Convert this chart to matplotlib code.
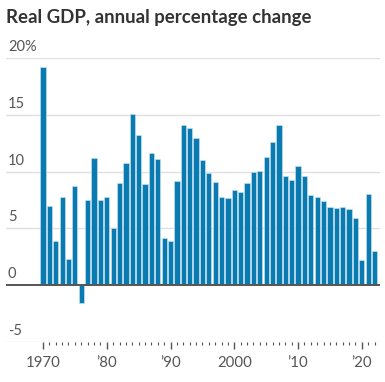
import numpy as np
import matplotlib
matplotlib.use("Agg")
import matplotlib.pyplot as plt
import matplotlib.transforms as mtransforms

plt.rcParams['font.family'] = ['Lato', 'DejaVu Sans']

# real GDP, annual % change
years = list(range(1970, 2023))
gdp_change = [19.2, 7.0, 3.9, 7.8, 2.3, 8.7, -1.6, 7.5, 11.2, 7.5,
              7.8, 5.0, 9.0, 10.8, 15.1, 13.2, 8.9, 11.6, 11.1, 4.2,
              3.9, 9.2, 14.1, 13.8, 13.0, 11.0, 9.9, 9.1, 7.8, 7.7,
              8.4, 8.2, 9.0, 10.0, 10.1, 11.3, 12.6, 14.1, 9.6, 9.3,
              10.5, 9.6, 7.9, 7.8, 7.4, 6.9, 6.8, 6.9, 6.7, 5.9,
              2.2, 8.0, 3.0]

y_ticks = [-5, 0, 5, 10, 15, 20]
y_labels = ["-5", "0", "5", "10", "15", "20%"]
x_major = [1970, 1980, 1990, 2000, 2010, 2020]
x_labels = ["1970", "\u201980", "\u201990", "2000", "\u201910", "\u201920"]

bar_color = "#0a7bb0"
text_color = "#555555"

fig = plt.figure(figsize=(3.85, 3.82), dpi=100)
ax = fig.add_axes([0.0156, 0.1047, 0.9714, 0.7433])

ax.bar(years, gdp_change, width=0.82, color=bar_color,
       edgecolor="#cfe6f2", linewidth=0.4, zorder=3)

ax.set_ylim(-5, 20)
ax.set_xlim(1964.2, 2022.85)

# gridlines
for v in y_ticks:
    if v == 0:
        ax.axhline(0, color="#555555", lw=1.4, zorder=4)
    else:
        ax.axhline(v, color="#e0e0e0", lw=1.0, zorder=1)

# y labels sit above the gridlines, left aligned
trans = mtransforms.blended_transform_factory(ax.transAxes, ax.transData)
for v, lab in zip(y_ticks, y_labels):
    ax.text(0.005, v + 0.35, lab, transform=trans, ha="left", va="bottom",
            fontsize=10.5, color=text_color)
ax.set_yticks([])

ax.set_xticks(x_major)
ax.set_xticklabels(x_labels, fontsize=10.8, color=text_color)
ax.set_xticks(years, minor=True)
ax.tick_params(axis="x", which="major", length=5, width=1, color=text_color, pad=5)
ax.tick_params(axis="x", which="minor", length=2.5, width=0.8, color=text_color)

for s in ax.spines.values():
    s.set_visible(False)

fig.text(0.016, 0.955, "Real GDP, annual percentage change", fontsize=13.4,
         fontweight="bold", color="#333333", ha="left", va="center")

fig.savefig("out.png", dpi=100)
